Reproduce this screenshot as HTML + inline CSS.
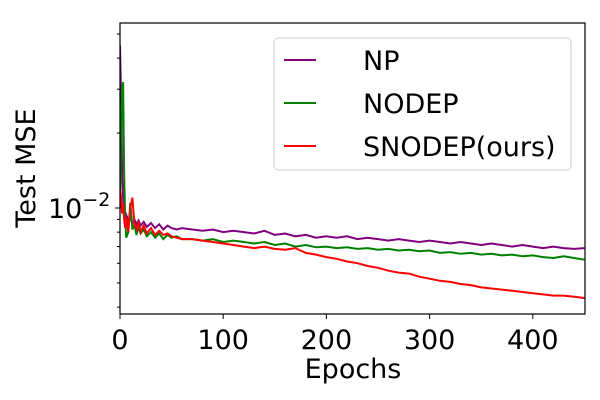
<!DOCTYPE html>
<html><head><meta charset="utf-8"><style>
body{margin:0;background:#fff;}
svg{display:block;font-family:"DejaVu Sans","Liberation Sans",sans-serif;}
</style></head><body>
<svg id="chart" width="600" height="400">
<g id="plot"></g>
</svg>
<script>
const epochs=[0,1,2,3,4,5,6,8,10,12,14,16,18,20,23,26,30,34,38,42,46,50,55,60,70,80,90,100,110,120,130,140,150,160,170,180,190,200,210,220,230,240,250,260,270,280,290,300,310,320,330,340,350,360,370,380,390,400,410,420,430,440,450];
const npVals=[45,28,14,11,9.6,9.2,9.4,8.9,9.2,8.7,9.0,8.6,8.9,8.5,8.8,8.4,8.7,8.3,8.6,8.2,8.5,8.3,8.2,8.3,8.2,8.1,8.2,8.0,8.1,8.0,7.9,8.1,7.8,7.9,7.7,7.8,7.6,7.7,7.6,7.7,7.5,7.6,7.5,7.4,7.5,7.4,7.3,7.4,7.3,7.2,7.3,7.2,7.1,7.2,7.1,7.0,7.1,7.0,6.9,7.0,6.9,6.85,6.9];
const nodepVals=[10,20,30,32,14,9,7.6,8.0,10.5,8.2,8.6,7.8,8.4,7.9,8.2,7.7,8.0,7.6,7.9,7.5,7.8,7.6,7.7,7.5,7.5,7.4,7.5,7.3,7.4,7.3,7.2,7.3,7.1,7.2,7.0,7.1,6.95,7.0,6.9,6.95,6.85,6.9,6.8,6.85,6.75,6.8,6.7,6.75,6.6,6.65,6.55,6.6,6.5,6.55,6.45,6.5,6.4,6.45,6.35,6.3,6.4,6.3,6.2];
const snodepVals=[12,11,9.5,10.5,9.0,8.3,9.2,8.0,10,11,8.6,8.2,8.8,8.0,8.5,7.9,8.3,7.8,8.1,7.8,7.9,7.7,7.6,7.5,7.5,7.4,7.3,7.2,7.1,7.0,6.9,7.0,6.85,6.8,6.9,6.6,6.5,6.35,6.25,6.1,6.0,5.85,5.75,5.6,5.5,5.45,5.3,5.2,5.1,5.05,4.95,4.9,4.8,4.75,4.7,4.65,4.6,4.55,4.5,4.45,4.45,4.4,4.35];
const xTicks=[0,100,200,300,400];
const minorY=[4,5,6,7,8,9,20,30,40,50];
const seriesNames=["NP","NODEP","SNODEP(ours)"];
const seriesColors=["#800080","#008000","#ff0000"];

const L=120,R=585,T=23,B=314;
const X=e=>L+e*1.032;
const Y=v=>208-Math.log10(v/10)*249;
const NS="http://www.w3.org/2000/svg";
const g=document.getElementById('plot');
function mk(t,a,parent){const el=document.createElementNS(NS,t);for(const k in a)el.setAttribute(k,a[k]);(parent||g).appendChild(el);return el;}

const cp=mk('clipPath',{id:'clip'});mk('rect',{x:L,y:T,width:R-L,height:B-T},cp);
[npVals,nodepVals,snodepVals].forEach((vals,i)=>{
  const d=vals.map((v,j)=>(j?'L':'M')+X(epochs[j]).toFixed(1)+','+Y(v).toFixed(1)).join('');
  const p=mk('path',{d:d,fill:'none',stroke:seriesColors[i],'stroke-width':2,'clip-path':'url(#clip)'});
  
  
});

const frame=mk('rect',{x:L,y:T,width:R-L,height:B-T,fill:'none',stroke:'#000','stroke-width':1.2});



xTicks.forEach(t=>{
  mk('line',{x1:X(t),x2:X(t),y1:B,y2:B+5,stroke:'#000'});
  const tx=mk('text',{x:X(t),y:B+35,'font-size':27,'text-anchor':'middle'});tx.textContent=t;
  
  
});
minorY.forEach(v=>{mk('line',{x1:L-3,x2:L,y1:Y(v),y2:Y(v),stroke:'#000'});});
mk('line',{x1:L-5,x2:L,y1:Y(10),y2:Y(10),stroke:'#000'});
const yl=mk('text',{x:48,y:Y(10)+10,'font-size':27});yl.innerHTML='10<tspan dy="-12" font-size="19">−2</tspan>';



const xt=mk('text',{x:353,y:378,'font-size':27,'text-anchor':'middle'});xt.textContent='Epochs';


const yt=mk('text',{x:0,y:0,'font-size':27,'text-anchor':'middle',transform:'translate(35,168) rotate(-90)'});yt.textContent='Test MSE';



const lg=mk('rect',{x:274,y:38,width:297,height:132,rx:4,fill:'#fff','fill-opacity':0.8,stroke:'#ccc'});


seriesNames.forEach((n,i)=>{
  const y=60+i*43;
  mk('line',{x1:284,x2:316,y1:y,y2:y,stroke:seriesColors[i],'stroke-width':2});
  const t=mk('text',{x:363,y:y+10,'font-size':27});t.textContent=n;
  
  
});
</script>
</body></html>
